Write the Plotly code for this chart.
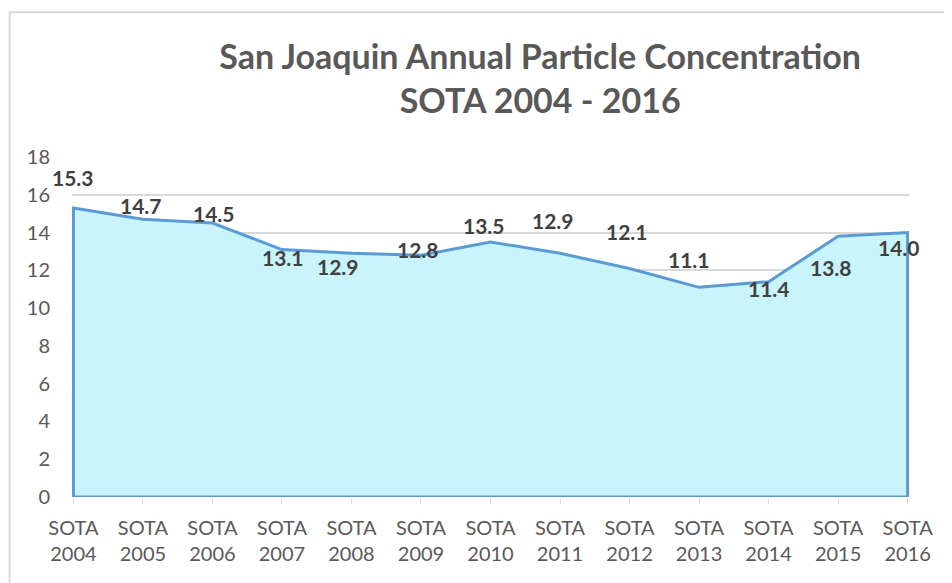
import plotly.graph_objects as go

categories = ["SOTA<br>2004", "SOTA<br>2005", "SOTA<br>2006", "SOTA<br>2007", "SOTA<br>2008",
              "SOTA<br>2009", "SOTA<br>2010", "SOTA<br>2011", "SOTA<br>2012", "SOTA<br>2013",
              "SOTA<br>2014", "SOTA<br>2015", "SOTA<br>2016"]
values = [15.3, 14.7, 14.5, 13.1, 12.9, 12.8, 13.5, 12.9, 12.1, 11.1, 11.4, 13.8, 14.0]
labels = ["15.3", "14.7", "14.5", "13.1", "12.9", "12.8", "13.5", "12.9", "12.1", "11.1", "11.4", "13.8", "14.0"]
# label offsets (pixels) relative to data points
label_dx = [0, -2, 2, 1, -13, -3, -7, -7, -3, -10, 0, -7, -9]
label_dy = [31, 14, 10, -8, -13, 6, 17, 33, 37, 28, -7, -31, -15]

xs = list(range(len(categories)))
poly_x = [xs[0]] + xs + [xs[-1], xs[0]]
poly_y = [0] + values + [0, 0]

fig = go.Figure()
fig.add_trace(go.Scatter(
    x=poly_x, y=poly_y, mode="lines", fill="toself",
    fillcolor="#C9F4FB", line=dict(color="#5B9BD5", width=3),
    hoverinfo="skip", showlegend=False))

for i, (v, t) in enumerate(zip(values, labels)):
    fig.add_annotation(x=xs[i], y=v, text="<b>%s</b>" % t, showarrow=False,
                       xshift=label_dx[i], yshift=label_dy[i],
                       font=dict(family="Lato, Open Sans, sans-serif", size=21, color="#404040"))

fig.add_shape(type="rect", xref="paper", yref="paper",
              x0=-0.0745, x1=1.06, y0=-0.3, y1=1.426,
              line=dict(color="#D9D9D9", width=2), fillcolor="rgba(0,0,0,0)", layer="below")

fig.update_layout(
    width=952, height=583,
    margin=dict(l=64, r=51, t=149, b=94),
    paper_bgcolor="white", plot_bgcolor="white",
    title=dict(text="<b>San Joaquin Annual Particle Concentration<br>SOTA 2004 - 2016</b>",
               x=0.559, xanchor="center", y=0.895, yanchor="middle",
               font=dict(family="Lato, Open Sans, sans-serif", size=34, color="#595959")),
    font=dict(family="Lato, Open Sans, sans-serif", color="#595959"),
)
fig.update_xaxes(
    tickmode="array", tickvals=xs, ticktext=categories, range=[-0.02, 12.02],
    showgrid=False, zeroline=False, showline=False,
    ticks="outside", ticklen=6, tickcolor="#D9D9D9",
    tickfont=dict(size=20, color="#595959"), ticklabelstandoff=7)
fig.update_yaxes(
    range=[0, 18], dtick=2, showgrid=True, gridcolor="#D9D9D9", gridwidth=1.5,
    zeroline=False, showline=False, ticks="",
    tickfont=dict(size=20, color="#595959"), ticklabelstandoff=21)

fig.write_html("out.html")
